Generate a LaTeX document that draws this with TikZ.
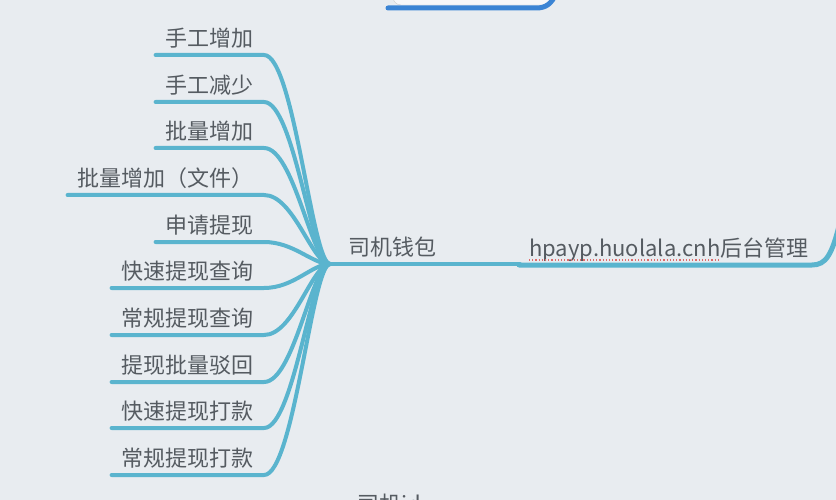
\documentclass[tikz,border=0pt]{standalone}
\usepackage{fontspec}
\newfontfamily\cjk{Noto Sans CJK SC}
\definecolor{bg}{HTML}{E8ECF0}
\definecolor{br}{HTML}{5AB4CE}
\definecolor{topblue}{HTML}{3B84D4}
\definecolor{txt}{HTML}{555B61}
\definecolor{spell}{HTML}{E06A6A}
\tikzset{
  leaf/.style={font=\cjk\fontsize{22}{26}\selectfont, text=txt, inner xsep=10pt, inner ysep=8pt, text depth=0pt, anchor=south east},
  mid/.style={font=\cjk\fontsize{22}{26}\selectfont, text=txt, inner xsep=10pt, inner ysep=8pt, text depth=0pt, anchor=south west},
  branch/.style={draw=br, line width=4pt, line cap=round},
  thick branch/.style={draw=br, line width=5pt, line cap=round},
}
\begin{document}
\begin{tikzpicture}[x=1pt,y=-1pt]
\useasboundingbox (0,0) rectangle (836,500);
\clip (0,0) rectangle (836,500);
\fill[bg] (0,0) rectangle (836,500);

% top partial node
\draw[fill=white!60!bg, draw=black!20, rounded corners=8pt] (393,-40) rectangle (551,5);
\draw[draw=topblue, line width=5pt, line cap=round] (388,8) -- (536,8) .. controls (546,8) and (551,4) .. (556,-6);

\coordinate (hub) at (330,264);

% leaves
\node[leaf] (l1) at (264,55) {手工增加};
\node[leaf] (l2) at (264,102) {手工减少};
\node[leaf] (l3) at (264,148) {批量增加};
\node[leaf] (l4) at (264,195) {批量增加（文件）};
\node[leaf] (l5) at (264,242) {申请提现};
\node[leaf] (l6) at (264,288) {快速提现查询};
\node[leaf] (l7) at (264,335) {常规提现查询};
\node[leaf] (l8) at (264,382) {提现批量驳回};
\node[leaf] (l9) at (264,428) {快速提现打款};
\node[leaf] (l10) at (264,475) {常规提现打款};

\foreach \n in {l1,l2,l3,l4,l5,l6,l7,l8,l9,l10}{
  \draw[branch] (\n.south west) -- (\n.south east) .. controls +(30,0) and (312,264) .. (hub);
}

% middle node
\node[mid] (wallet) at (338,264) {司机钱包};
\draw[branch] (hub) -- (520,264);

% right node
\node[mid] (hp) at (519,265) {hpayp.huolala.cnh后台管理};
\draw[thick branch] (hp.south west) -- (812,265) .. controls (826,265) and (832,255) .. (840,222);
\coordinate (spA) at (529,260);
\coordinate (spB) at (718,260);
\draw[spell, line width=1.2pt, dotted] (spA) -- (spB);

% bottom partial node
\node[font=\cjk\fontsize{22}{26}\selectfont, text=txt, inner sep=0pt, anchor=base west] (bottom) at (357,512) {司机id};
\end{tikzpicture}
\end{document}
